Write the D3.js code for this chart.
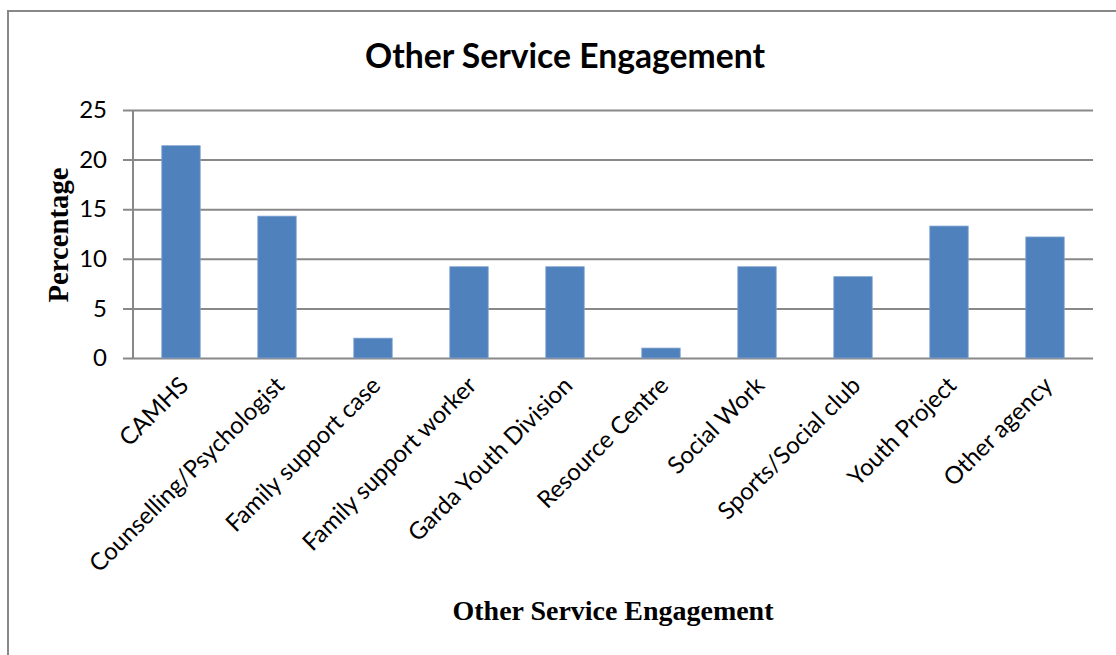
<!DOCTYPE html>
<html><head><meta charset="utf-8">
<script src="https://cdn.jsdelivr.net/npm/d3@7"></script>
<style>html,body{margin:0;padding:0;background:#fff;}</style>
</head><body>
<svg id="chart" width="1116" height="655"></svg>
<script>
const categories = ["CAMHS","Counselling/Psychologist","Family support case","Family support worker","Garda Youth Division","Resource Centre","Social Work","Sports/Social club","Youth Project","Other agency"];
const values = [21.4,14.3,2.0,9.2,9.2,1.0,9.2,8.2,13.3,12.2];
const yTicks = [0,5,10,15,20,25];
const title = "Other Service Engagement";
const xTitle = "Other Service Engagement";
const yTitle = "Percentage";

const svg = d3.select("#chart");
svg.append("rect").attr("x",8).attr("y",11).attr("width",1200).attr("height",700)
  .attr("fill","#fff").attr("stroke","#888").attr("stroke-width",2);

const m = {l:133, r:1093, t:110, b:358};
const x = d3.scaleBand().domain(categories).range([m.l,m.r]).paddingInner(0.6).paddingOuter(0.3);
const y = d3.scaleLinear().domain([0,25]).range([m.b,m.t]);

// gridlines
const yAxis = d3.axisLeft(y).tickValues(yTicks).tickSize(-(m.r-m.l)).tickPadding(26);
const gy = svg.append("g").attr("transform",`translate(${m.l},0)`).call(yAxis);
gy.attr("font-size",null).attr("font-family",null);
gy.select(".domain").remove();
gy.selectAll(".tick line").attr("stroke","#888").attr("stroke-width",2).attr("x1",-10);
gy.selectAll(".tick text").style("font-family","Lato, 'Open Sans', sans-serif").style("font-size","24px").attr("fill","#000");
svg.append("line").attr("x1",m.l).attr("x2",m.l).attr("y1",m.t).attr("y2",m.b).attr("stroke","#888").attr("stroke-width",2);

// bars
svg.append("g").selectAll("rect").data(values).join("rect")
  .attr("x",(d,i)=>x(categories[i]))
  .attr("width",x.bandwidth())
  .attr("y",d=>y(d))
  .attr("height",d=>y(0)-y(d))
  .attr("fill","#4F81BD").attr("stroke","#7FA3D0").attr("stroke-width",0.8);

const fitText = (sel, target) => { const w = sel.node().getComputedTextLength(); const fs = parseFloat(sel.attr("font-size")); sel.attr("font-size", fs*target/w); };

// category labels
const labels = svg.append("g").selectAll("text").data(categories).join("text")
  .attr("transform",d=>`translate(${x(d)+x.bandwidth()/2+3},${381}) rotate(-45)`)
  .attr("text-anchor","end").attr("dy","0.35em")
  .attr("font-family","Lato, 'Open Sans', sans-serif").attr("font-size",20).attr("fill","#000")
  .text(d=>d);
{
  const n = labels.filter(d=>d==="Counselling/Psychologist");
  const w = n.node().getComputedTextLength();
  labels.attr("font-size", 20*264/w);
}

const t = svg.append("text").attr("x",565).attr("y",68).attr("text-anchor","middle")
  .attr("font-family","Lato, sans-serif").attr("font-weight","bold").attr("font-size",30).text(title);
fitText(t,400);
const xt = svg.append("text").attr("x",613).attr("y",620).attr("text-anchor","middle")
  .attr("font-family","'Liberation Serif', serif").attr("font-weight","bold").attr("font-size",21).text(xTitle);
fitText(xt,321);
const yt = svg.append("text").attr("transform","translate(68,235) rotate(-90)").attr("text-anchor","middle")
  .attr("font-family","'Liberation Serif', serif").attr("font-weight","bold").attr("font-size",22).text(yTitle);
fitText(yt,135);
</script>
</body></html>
